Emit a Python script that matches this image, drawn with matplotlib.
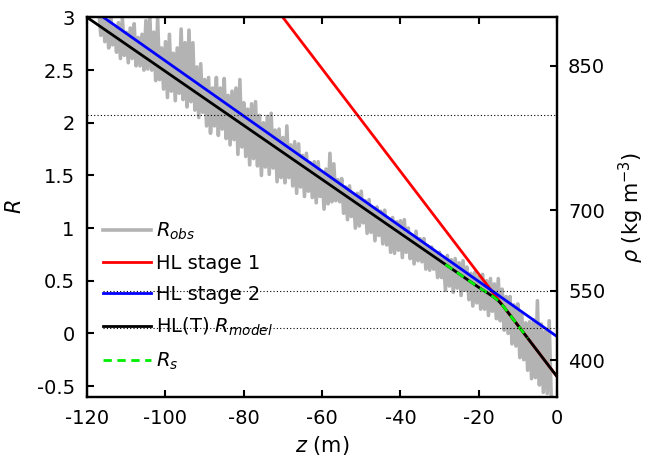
import numpy as np
import matplotlib.pyplot as plt
from matplotlib.ticker import FuncFormatter

plt.rcParams['axes.unicode_minus'] = False
plt.rcParams['font.family'] = 'DejaVu Sans'
plt.rcParams['font.size'] = 14

# observed R, sampled every 0.5 m from -117 m to -1.5 m
z_obs = np.arange(-117, -1.0, 0.5)
r_obs = [3.04, 2.83, 3.08, 2.77, 2.97, 2.71, 3.05, 2.74, 2.90, 2.67,
         2.95, 2.61, 2.99, 2.64, 2.86, 2.57, 2.90, 2.61, 2.94, 2.54,
         2.81, 2.54, 2.84, 2.50, 2.97, 2.51, 3.01, 2.50, 2.86, 2.40,
         2.99, 2.41, 2.71, 2.32, 2.77, 2.24, 2.84, 2.30, 2.66, 2.21,
         2.71, 2.28, 2.89, 2.22, 2.76, 2.15, 2.88, 2.20, 2.76, 2.12,
         2.53, 2.05, 2.56, 2.10, 2.41, 1.97, 2.43, 1.90, 2.33, 1.97,
         2.43, 1.88, 2.33, 1.94, 2.42, 1.85, 2.26, 1.79, 2.30, 1.84,
         2.33, 1.70, 2.41, 1.77, 2.19, 1.68, 2.13, 1.60, 2.18, 1.66,
         2.20, 1.59, 2.07, 1.50, 2.00, 1.58, 2.06, 1.51, 2.09, 1.57,
         1.93, 1.44, 1.94, 1.48, 1.86, 1.43, 1.97, 1.48, 1.79, 1.40,
         1.82, 1.33, 1.80, 1.39, 1.69, 1.30, 1.71, 1.35, 1.62, 1.29,
         1.63, 1.24, 1.63, 1.30, 1.52, 1.18, 1.56, 1.23, 1.71, 1.25,
         1.61, 1.26, 1.46, 1.25, 1.47, 1.14, 1.39, 1.08, 1.40, 1.11,
         1.32, 1.00, 1.33, 1.02, 1.35, 1.05, 1.26, 0.95, 1.27, 0.96,
         1.19, 0.88, 1.20, 0.93, 1.16, 0.85, 1.17, 0.84, 1.08, 0.77,
         1.10, 0.76, 1.06, 0.79, 1.07, 0.72, 1.08, 0.77, 1.00, 0.71,
         0.93, 0.66, 0.97, 0.69, 0.90, 0.68, 0.90, 0.61, 0.83, 0.60,
         0.82, 0.61, 0.77, 0.53, 0.77, 0.53, 0.71, 0.41, 0.74, 0.45,
         0.70, 0.39, 0.71, 0.43, 0.67, 0.36, 0.69, 0.41, 0.63, 0.32,
         0.57, 0.26, 0.58, 0.29, 0.54, 0.23, 0.56, 0.23, 0.50, 0.17,
         0.52, 0.21, 0.47, 0.14, 0.52, 0.12, 0.42, 0.03, 0.35, 0.00,
         0.35, -0.10, 0.27, -0.12, 0.28, -0.23, 0.19, -0.25, 0.10, -0.35,
         0.11, -0.43, 0.13, -0.42, 0.31, -0.49, 0.09, -0.56, 0.02, -0.57,
         0.12, -0.60]

# Herron-Langway fits (straight lines)
z_hl1 = [-70, 0]
r_hl1 = [3.0, -0.41]
z_hl2 = [-120, 0]
r_hl2 = [3.11, -0.03]

# HL(T) model
z_model = [-120, -40, -30, -25, -22, -20, -18, -17, -16, -15, -14, -13, 0]
r_model = [3.0, 0.949, 0.693, 0.565, 0.488, 0.437, 0.39, 0.365, 0.34, 0.31, 0.27, 0.223, -0.41]

# R_s
z_s = [-28.5, -25, -22, -20, -18, -17, -16, -15, -14, -13, -10, -7.5]
r_s = [0.655, 0.565, 0.488, 0.437, 0.39, 0.365, 0.34, 0.31, 0.27, 0.223, 0.077, -0.045]

# density axis
rho_ice = 917.0
rho_ticks = [400, 550, 700, 850]
rho_lines = [815, 550, 470]
line_start = [-120, -116, -116]

fig = plt.figure(figsize=(6.53, 4.59), dpi=100)
ax = fig.add_axes([0.1335, 0.136, 0.7195, 0.826])

ax.plot(z_obs, r_obs, color='#b3b3b3', lw=2.6, label='$R_{obs}$')
ax.plot(z_hl1, r_hl1, color='red', lw=2.0, label='HL stage 1')
ax.plot(z_hl2, r_hl2, color='blue', lw=2.0, label='HL stage 2')
ax.plot(z_model, r_model, color='black', lw=2.0, label='HL(T) $R_{model}$')
ax.plot(z_s, r_s, color='#00ee00', lw=2.0, ls='--', dashes=(3, 2), label='$R_s$')

ax.set_xlim(-120, 0)
ax.set_ylim(-0.6, 3)
ax.set_xticks(range(-120, 1, 20))
ax.set_yticks(np.arange(-0.5, 3.01, 0.5))
ax.yaxis.set_major_formatter(FuncFormatter(lambda v, p: '%g' % v))
ax.xaxis.set_ticks_position('both')
ax.tick_params(direction='in', length=5, width=1.5, pad=9, labelsize=14)
ax.tick_params(axis='y', right=False)
for s in ax.spines.values():
    s.set_linewidth(1.6)

ax.set_xlabel('$z$ (m)', fontsize=15, labelpad=4)
ax.set_ylabel('$R$', fontsize=15, labelpad=8)

ax.legend(loc='upper left', bbox_to_anchor=(0.008, 0.495), frameon=False,
          handlelength=2.5, handletextpad=0.25, labelspacing=0.62,
          borderaxespad=0.2, fontsize=14)

ax2 = ax.twinx()
ax2.set_ylim(ax.get_ylim())
rt = np.array(rho_ticks, dtype=float)
ax2.set_yticks(np.log(rt / (rho_ice - rt)))
ax2.set_yticklabels([str(r) for r in rho_ticks])
ax2.tick_params(direction='in', length=5, width=1.5, pad=8, labelsize=14)
ax2.set_ylabel(r'$\rho$ (kg m$^{-3}$)', fontsize=15, labelpad=8)
for s in ax2.spines.values():
    s.set_linewidth(1.6)

rl = np.array(rho_lines, dtype=float)
ax2.hlines(np.log(rl / (rho_ice - rl)), line_start, 0, colors='black',
           linestyles=(0, (1, 2)), lw=0.8)
ax2.set_xlim(-120, 0)

fig.savefig('out.png', dpi=100)
